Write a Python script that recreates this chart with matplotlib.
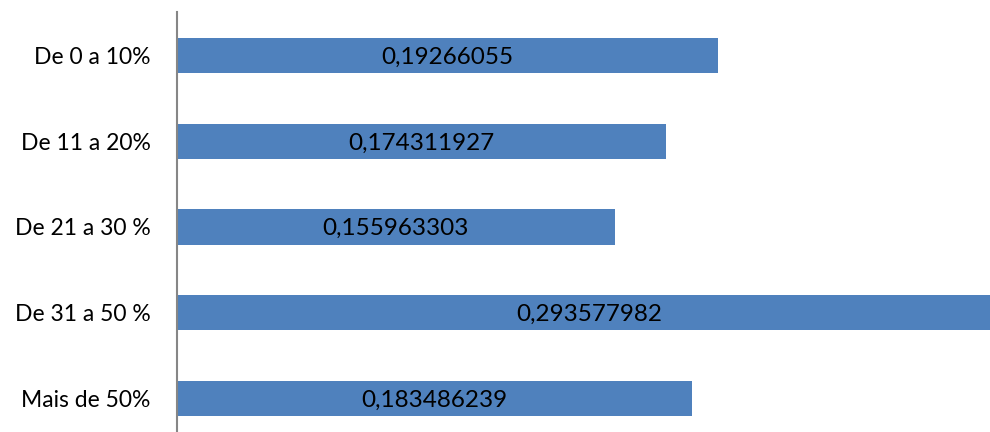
import matplotlib.pyplot as plt

plt.rcParams['font.family'] = ['Lato', 'DejaVu Sans']

categories = ['De 0 a 10%', 'De 11 a 20%', 'De 21 a 30 %', 'De 31 a 50 %', 'Mais de 50%']
shares = [0.19266055, 0.174311927, 0.155963303, 0.293577982, 0.183486239]

fig = plt.figure(figsize=(9.9, 4.32), dpi=100)
ax = fig.add_axes([177 / 990, 0, 813 / 990, 419.5 / 432])

ypos = range(len(categories))
ax.barh(ypos, shares, height=0.41, color='#4F81BD')

for y, v in zip(ypos, shares):
    ax.text(v / 2, y + 0.02, str(v).replace('.', ','), ha='center', va='center',
            fontsize=17.5, color='black', clip_on=False)

ax.set_xlim(0, 0.2897)
ax.set_ylim(4.39, -0.5)
ax.set_yticks(list(ypos))
ax.set_yticklabels(categories, fontsize=16.5)
ax.tick_params(axis='y', length=0, pad=19)
ax.set_xticks([])

for side in ['top', 'right', 'bottom']:
    ax.spines[side].set_visible(False)
ax.spines['left'].set_color('#868686')
ax.spines['left'].set_linewidth(1.5)

fig.savefig('out.png', dpi=100)
